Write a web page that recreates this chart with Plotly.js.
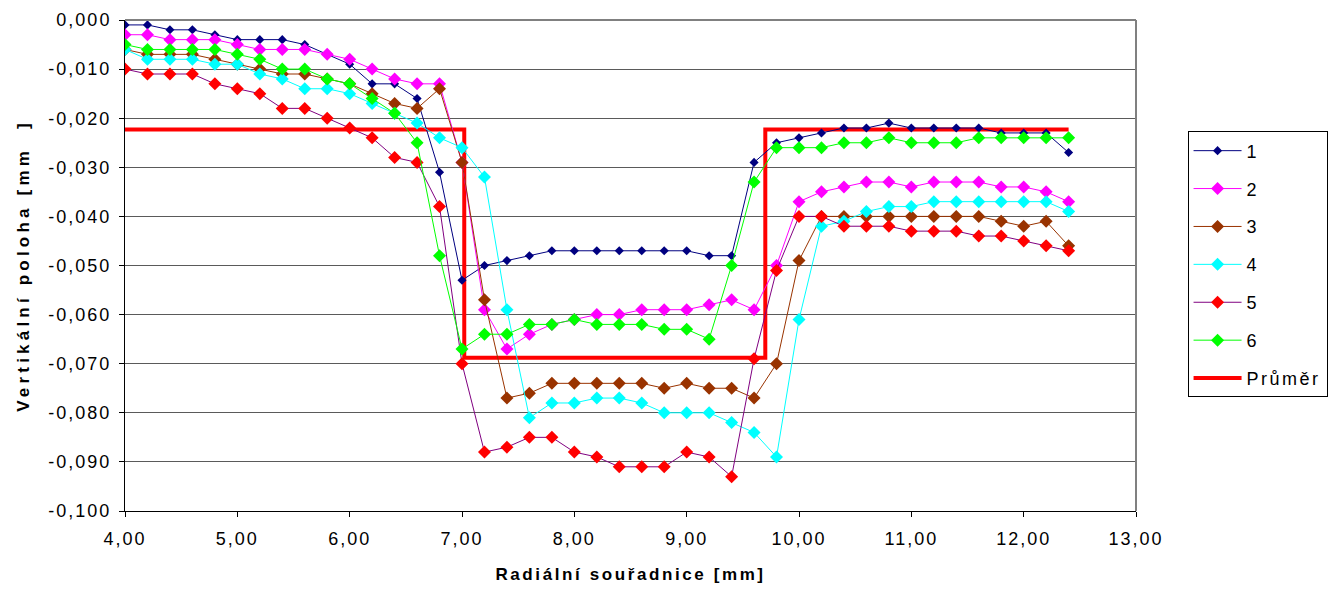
<!DOCTYPE html>
<html>
<head>
<meta charset="utf-8">
<script src="https://cdn.plot.ly/plotly-3.0.1.min.js"></script>
<style>
html,body{margin:0;padding:0;background:#fff;}
#chart{width:1340px;height:597px;}
.xtick text, .ytick text { letter-spacing: 2px; }
text.xtitle { letter-spacing: 2.6px; }
text.ytitle { letter-spacing: 4.2px; }
text.legendtext { letter-spacing: 2.5px; }
</style>
</head>
<body>
<div id="chart"></div>
<script>
const xValues = [4.0,4.2,4.4,4.6,4.8,5.0,5.2,5.4,5.6,5.8,6.0,6.2,6.4,6.6,6.8,7.0,7.2,7.4,7.6,7.8,8.0,8.2,8.4,8.6,8.8,9.0,9.2,9.4,9.6,9.8,10.0,10.2,10.4,10.6,10.8,11.0,11.2,11.4,11.6,11.8,12.0,12.2,12.4];

const series1 = [-0.001,-0.001,-0.002,-0.002,-0.003,-0.004,-0.004,-0.004,-0.005,-0.007,-0.009,-0.013,-0.013,-0.016,-0.031,-0.053,-0.050,-0.049,-0.048,-0.047,-0.047,-0.047,-0.047,-0.047,-0.047,-0.047,-0.048,-0.048,-0.029,-0.025,-0.024,-0.023,-0.022,-0.022,-0.021,-0.022,-0.022,-0.022,-0.022,-0.023,-0.023,-0.023,-0.027];
const series2 = [-0.003,-0.003,-0.004,-0.004,-0.004,-0.005,-0.006,-0.006,-0.006,-0.007,-0.008,-0.010,-0.012,-0.013,-0.013,-0.029,-0.059,-0.067,-0.064,-0.062,-0.061,-0.060,-0.060,-0.059,-0.059,-0.059,-0.058,-0.057,-0.059,-0.050,-0.037,-0.035,-0.034,-0.033,-0.033,-0.034,-0.033,-0.033,-0.033,-0.034,-0.034,-0.035,-0.037];
const series3 = [-0.006,-0.007,-0.007,-0.007,-0.008,-0.009,-0.010,-0.011,-0.011,-0.012,-0.013,-0.015,-0.017,-0.018,-0.014,-0.029,-0.057,-0.077,-0.076,-0.074,-0.074,-0.074,-0.074,-0.074,-0.075,-0.074,-0.075,-0.075,-0.077,-0.070,-0.049,-0.040,-0.040,-0.040,-0.040,-0.040,-0.040,-0.040,-0.040,-0.041,-0.042,-0.041,-0.046];
const series4 = [-0.006,-0.008,-0.008,-0.008,-0.009,-0.009,-0.011,-0.012,-0.014,-0.014,-0.015,-0.017,-0.019,-0.021,-0.024,-0.026,-0.032,-0.059,-0.081,-0.078,-0.078,-0.077,-0.077,-0.078,-0.080,-0.080,-0.080,-0.082,-0.084,-0.089,-0.061,-0.042,-0.041,-0.039,-0.038,-0.038,-0.037,-0.037,-0.037,-0.037,-0.037,-0.037,-0.039];
const series5 = [-0.010,-0.011,-0.011,-0.011,-0.013,-0.014,-0.015,-0.018,-0.018,-0.020,-0.022,-0.024,-0.028,-0.029,-0.038,-0.070,-0.088,-0.087,-0.085,-0.085,-0.088,-0.089,-0.091,-0.091,-0.091,-0.088,-0.089,-0.093,-0.069,-0.051,-0.040,-0.040,-0.042,-0.042,-0.042,-0.043,-0.043,-0.043,-0.044,-0.044,-0.045,-0.046,-0.047];
const series6 = [-0.005,-0.006,-0.006,-0.006,-0.006,-0.007,-0.008,-0.010,-0.010,-0.012,-0.013,-0.016,-0.019,-0.025,-0.048,-0.067,-0.064,-0.064,-0.062,-0.062,-0.061,-0.062,-0.062,-0.062,-0.063,-0.063,-0.065,-0.050,-0.033,-0.026,-0.026,-0.026,-0.025,-0.025,-0.024,-0.025,-0.025,-0.025,-0.024,-0.024,-0.024,-0.024,-0.024];

const meanX = [4.0, 7.02, 7.02, 9.7, 9.7, 12.4];
const meanY = [-0.0223, -0.0223, -0.0688, -0.0688, -0.0223, -0.0223];

const seriesNames = ["1","2","3","4","5","6","Průměr"];

const yTickVals = [0,-0.01,-0.02,-0.03,-0.04,-0.05,-0.06,-0.07,-0.08,-0.09,-0.1];
const yTickText = ["0,000","-0,010","-0,020","-0,030","-0,040","-0,050","-0,060","-0,070","-0,080","-0,090","-0,100"];
const xTickVals = [4,5,6,7,8,9,10,11,12,13];
const xTickText = ["4,00","5,00","6,00","7,00","8,00","9,00","10,00","11,00","12,00","13,00"];

const styles = [
  {m:"#000080", l:"#000080", s:7},
  {m:"#FF00FF", l:"#FF00FF", s:10},
  {m:"#993300", l:"#993300", s:10},
  {m:"#00FFFF", l:"#00FFFF", s:10},
  {m:"#FF0000", l:"#800080", s:10},
  {m:"#00FF00", l:"#00FF00", s:10}
];
const allSeries = [series1,series2,series3,series4,series5,series6];

const traces = [];
traces.push({
  x: meanX, y: meanY, name: seriesNames[6], type: "scatter", mode: "lines",
  line: {color: "#FF0000", width: 4}, legendrank: 7, legendgroup: "g7"
});
allSeries.forEach((s, i) => {
  traces.push({
    x: xValues, y: s, name: seriesNames[i], type: "scatter", mode: "lines+markers",
    line: {color: styles[i].l, width: 1},
    marker: {symbol: "diamond", color: styles[i].m, size: styles[i].s, line: {width: 0}},
    legendrank: i + 1, legendgroup: "g" + (i + 1)
  });
});

const layout = {
  width: 1340, height: 597,
  margin: {l: 125, r: 204, t: 20, b: 86},
  paper_bgcolor: "#ffffff", plot_bgcolor: "#ffffff",
  font: {family: "Liberation Sans, Arial, sans-serif", color: "#000", size: 18},
  showlegend: true,
  legend: {
    x: 1.051, y: 0.773, xanchor: "left", yanchor: "top",
    bordercolor: "#000", borderwidth: 1, bgcolor: "#fff",
    font: {size: 18, color: "#000"}, tracegroupgap: 11.5,
    traceorder: "grouped", itemwidth: 48
  },
  xaxis: {
    range: [4, 13], tickvals: xTickVals, ticktext: xTickText,
    showgrid: false, zeroline: false,
    showline: true, linecolor: "#000", linewidth: 1,
    ticks: "outside", ticklen: 5, tickcolor: "#000",
    tickfont: {size: 18}, ticklabelstandoff: 6,
    title: {text: "<b>Radiální souřadnice [mm]</b>", font: {size: 17}, standoff: 20}
  },
  yaxis: {
    range: [-0.1, 0], tickvals: yTickVals, ticktext: yTickText,
    showgrid: true, gridcolor: "#5a5a5a", gridwidth: 1, zeroline: false,
    showline: true, linecolor: "#000", linewidth: 1,
    ticks: "outside", ticklen: 5, tickcolor: "#000",
    tickfont: {size: 18}, ticklabelstandoff: 4,
    title: {text: "<b>Vertikální poloha [mm  ]</b>", font: {size: 17}, standoff: 14}
  },
  shapes: [
    {type: "line", xref: "paper", yref: "paper", x0: 0, x1: 1, y0: 1, y1: 1, line: {color: "#808080", width: 2}},
    {type: "line", xref: "paper", yref: "paper", x0: 1, x1: 1, y0: 0, y1: 1, line: {color: "#808080", width: 2}}
  ]
};

Plotly.newPlot("chart", traces, layout, {displayModeBar: false, staticPlot: true});
</script>
</body>
</html>
